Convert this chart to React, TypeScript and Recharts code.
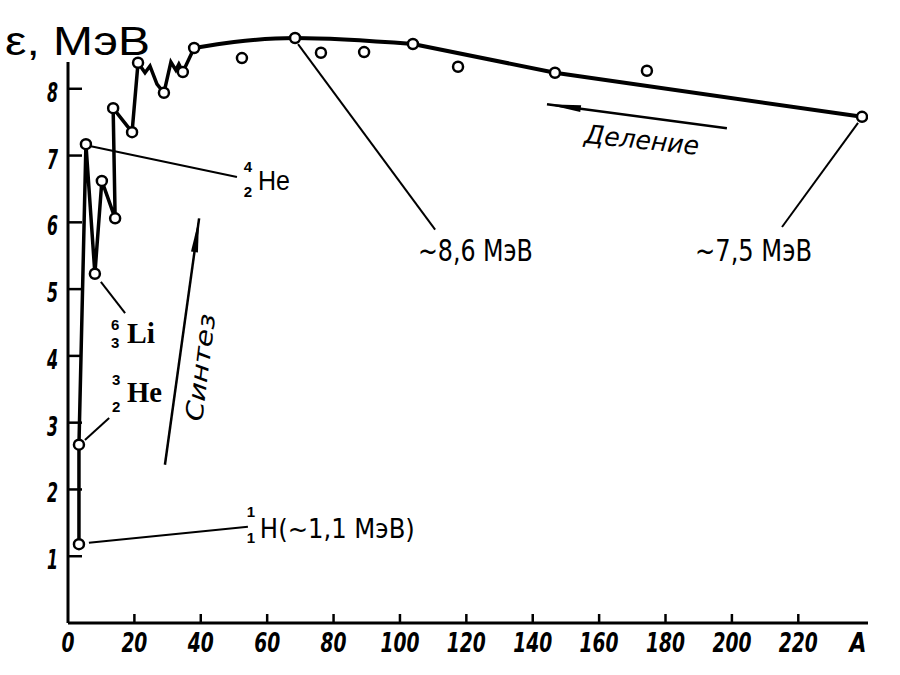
import React from "react";
import {
  ComposedChart,
  Line,
  Scatter,
  XAxis,
  YAxis,
  ReferenceLine,
  ReferenceDot,
} from "recharts";

// light nuclei: broken line, circles only where a nuclide is marked
const jagA = [3.3, 3.3, 5.4, 8.1, 10.2, 14.2, 13.6, 19.3, 21.1, 23.2, 24.7, 26.8, 28.9, 31.0, 32.5, 33.4, 34.6, 38.0];
const jagEps = [1.18, 2.67, 7.17, 5.23, 6.62, 6.06, 7.71, 7.35, 8.39, 8.24, 8.34, 8.07, 7.94, 8.4, 8.28, 8.37, 8.25, 8.61];
const jagDot = [1, 1, 1, 1, 1, 1, 1, 1, 1, 0, 0, 0, 1, 0, 0, 0, 1, 1];

// around the maximum: smooth curve
const peakA = [38.0, 50.0, 68.4, 103.9];
const peakEps = [8.61, 8.7, 8.76, 8.67];
const peakDot = [0, 0, 1, 1];

// heavy nuclei: nearly straight fall
const tailA = [103.9, 146.7, 239.2];
const tailEps = [8.67, 8.24, 7.58];
const tailDot = [0, 1, 1];

// points off the curve
const looseA = [52.4, 76.2, 89.2, 117.5, 174.4];
const looseEps = [8.46, 8.54, 8.55, 8.33, 8.27];

const xTicks = [0, 20, 40, 60, 80, 100, 120, 140, 160, 180, 200, 220, 238];
const xTickLabels = ["0", "20", "40", "60", "80", "100", "120", "140", "160", "180", "200", "220", "A"];
const yTicks = [1, 2, 3, 4, 5, 6, 7, 8];

const jagData = jagA.map((a, i) => ({ a, eps: jagEps[i], dot: jagDot[i] }));
const peakData = peakA.map((a, i) => ({ a, eps: peakEps[i], dot: peakDot[i] }));
const tailData = tailA.map((a, i) => ({ a, eps: tailEps[i], dot: tailDot[i] }));
const looseData = looseA.map((a, i) => ({ a, eps: looseEps[i] }));

// leader lines [from, to] in (A, eps)
const leaders = [
  [[6.9, 7.14], [50.9, 6.68]],
  [[9.9, 5.11], [17.2, 4.64]],
  [[5.1, 2.74], [12.4, 3.07]],
  [[6.3, 1.2], [54.2, 1.44]],
  [[69.3, 8.67], [110.6, 5.89]],
  [[238.0, 7.49], [215.1, 5.93]],
];

const NARROW = "'Liberation Sans Narrow', 'DejaVu Sans Condensed', 'Roboto Condensed', sans-serif";
const INK = "#000";

function Ring(p: any) {
  return <circle cx={p.cx} cy={p.cy} r={5} fill="#fff" stroke={INK} strokeWidth={2.5} />;
}

const dotFn = (p: any) =>
  p.payload && p.payload.dot ? (
    <circle key={p.index} cx={p.cx} cy={p.cy} r={5} fill="#fff" stroke={INK} strokeWidth={2.5} />
  ) : (
    <g key={p.index} />
  );

function XTick(props: any) {
  const { x, y, payload, index } = props;
  const label = xTickLabels[index] ?? String(payload.value);
  const isName = label === "A";
  return (
    <g>
      {!isName && payload.value !== 0 && (
        <line x1={x} x2={x} y1={y} y2={y - 9} stroke={INK} strokeWidth={2.5} />
      )}
      <text
        x={x}
        y={y + 29}
        textAnchor="middle"
        fontFamily={NARROW}
        fontSize={27}
        fontStyle="italic"
        fontWeight="bold"
        fill={INK}
        textLength={isName ? 17 : 13 * label.length}
        lengthAdjust="spacingAndGlyphs"
      >
        {label}
      </text>
    </g>
  );
}

function YTick(props: any) {
  const { x, y, payload } = props;
  return (
    <g>
      <line x1={x} x2={x + 14} y1={y} y2={y} stroke={INK} strokeWidth={2.5} />
      <text
        x={x - 10}
        y={y + 13}
        textAnchor="end"
        fontFamily={NARROW}
        fontSize={27}
        fontStyle="italic"
        fontWeight="bold"
        fill={INK}
        textLength={11}
        lengthAdjust="spacingAndGlyphs"
      >
        {payload.value}
      </text>
    </g>
  );
}

function Arrow(p: any) {
  const { x1, y1, x2, y2 } = p;
  const len = Math.hypot(x2 - x1, y2 - y1) || 1;
  const ux = (x2 - x1) / len;
  const uy = (y2 - y1) / len;
  const bx = x2 - ux * 34;
  const by = y2 - uy * 34;
  return (
    <g>
      <line x1={x1} y1={y1} x2={x2} y2={y2} stroke={INK} strokeWidth={2.5} />
      <polygon
        points={`${x2},${y2} ${bx - uy * 3.5},${by + ux * 3.5} ${bx + uy * 3.5},${by - ux * 3.5}`}
        fill={INK}
      />
    </g>
  );
}

const nuclide =
  (mass: string, charge: string, sym: string, opts: any) =>
  (p: any) => {
    const { cx, cy } = p;
    return (
      <g>
        <text
          x={cx - opts.ix}
          y={cy - opts.up}
          textAnchor="middle"
          fontFamily="'Liberation Sans', sans-serif"
          fontWeight="bold"
          fontSize={15}
          fill={INK}
        >
          {mass}
        </text>
        <text
          x={cx - opts.ix}
          y={cy + opts.down}
          textAnchor="middle"
          fontFamily="'Liberation Sans', sans-serif"
          fontWeight="bold"
          fontSize={15}
          fill={INK}
        >
          {charge}
        </text>
        <text
          x={cx}
          y={cy}
          fontFamily={opts.font}
          fontWeight={opts.weight}
          fontSize={opts.size}
          fill={INK}
          textLength={opts.len}
          lengthAdjust="spacingAndGlyphs"
        >
          {sym}
        </text>
      </g>
    );
  };

const plainText =
  (txt: string, opts: any) =>
  (p: any) =>
    (
      <text
        x={p.cx}
        y={p.cy}
        transform={opts.rot ? `rotate(${opts.rot} ${p.cx} ${p.cy})` : undefined}
        fontFamily={opts.font}
        fontStyle={opts.italic ? "italic" : "normal"}
        fontWeight={opts.weight || "normal"}
        fontSize={opts.size}
        fill={INK}
        textLength={opts.len}
        lengthAdjust="spacingAndGlyphs"
      >
        {txt}
      </text>
    );

export default function App() {
  return (
    <div style={{ position: "absolute", left: 0, top: 0, width: 900, height: 675, background: "#fff" }}>
      <ComposedChart
        width={900}
        height={675}
        margin={{ top: 22, right: 32, bottom: 0, left: 0 }}
      >
        <XAxis
          type="number"
          dataKey="a"
          domain={[0, 241]}
          ticks={xTicks}
          interval={0}
          allowDataOverflow
          height={52}
          tickSize={0}
          tickMargin={0}
          tickLine={false}
          axisLine={{ stroke: INK, strokeWidth: 3 }}
          tick={<XTick />}
        />
        <YAxis
          type="number"
          dataKey="eps"
          domain={[0, 9]}
          ticks={yTicks}
          interval={0}
          width={68}
          tickSize={0}
          tickMargin={0}
          tickLine={false}
          axisLine={false}
          tick={<YTick />}
        />
        <ReferenceLine
          segment={[{ x: 0, y: 0 }, { x: 0, y: 8.4 }]}
          stroke={INK}
          strokeWidth={3}
          ifOverflow="visible"
        />
        {leaders.map((s, i) => (
          <ReferenceLine
            key={"l" + i}
            segment={[{ x: s[0][0], y: s[0][1] }, { x: s[1][0], y: s[1][1] }]}
            stroke={INK}
            strokeWidth={2}
          />
        ))}
        <ReferenceLine
          segment={[{ x: 198.5, y: 7.41 }, { x: 144.3, y: 7.77 }]}
          shape={<Arrow />}
        />
        <ReferenceLine
          segment={[{ x: 29.2, y: 2.37 }, { x: 39.5, y: 6.06 }]}
          shape={<Arrow />}
        />
        <Line
          data={jagData}
          dataKey="eps"
          type="linear"
          stroke={INK}
          strokeWidth={3.5}
          dot={dotFn}
          activeDot={false}
          isAnimationActive={false}
        />
        <Line
          data={peakData}
          dataKey="eps"
          type="monotone"
          stroke={INK}
          strokeWidth={4}
          dot={dotFn}
          activeDot={false}
          isAnimationActive={false}
        />
        <Line
          data={tailData}
          dataKey="eps"
          type="linear"
          stroke={INK}
          strokeWidth={4}
          dot={dotFn}
          activeDot={false}
          isAnimationActive={false}
        />
        <Scatter data={looseData} dataKey="eps" shape={<Ring />} isAnimationActive={false} />
        <ReferenceDot
          x={57.2}
          y={6.48}
          r={0}
          shape={nuclide("4", "2", "He", { ix: 10, up: 18, down: 7, font: "'Liberation Sans', sans-serif", weight: "normal", size: 28, len: 32 })}
        />
        <ReferenceDot
          x={17.8}
          y={4.19}
          r={0}
          shape={nuclide("6", "3", "Li", { ix: 12, up: 13, down: 5, font: "'Liberation Serif', serif", weight: "bold", size: 29, len: 28 })}
        />
        <ReferenceDot
          x={17.8}
          y={3.31}
          r={0}
          shape={nuclide("3", "2", "He", { ix: 11, up: 17, down: 10, font: "'Liberation Serif', serif", weight: "bold", size: 29, len: 35 })}
        />
        <ReferenceDot
          x={57.8}
          y={1.27}
          r={0}
          shape={nuclide("1", "1", "H(~1,1 МэВ)", { ix: 9, up: 21, down: 5, font: NARROW, weight: "normal", size: 27, len: 155 })}
        />
        <ReferenceDot
          x={105.4}
          y={5.42}
          r={0}
          shape={plainText("~8,6 МэВ", { font: NARROW, size: 30, len: 115 })}
        />
        <ReferenceDot
          x={188.9}
          y={5.42}
          r={0}
          shape={plainText("~7,5 МэВ", { font: NARROW, size: 30, len: 117 })}
        />
        <ReferenceDot
          x={155.4}
          y={7.19}
          r={0}
          shape={plainText("Деление", { font: NARROW, size: 26, italic: true, rot: 6, len: 115 })}
        />
        <ReferenceDot
          x={40.4}
          y={3.01}
          r={0}
          shape={plainText("Синтез", { font: NARROW, size: 24, italic: true, rot: -83, len: 108 })}
        />
      </ComposedChart>
      <svg
        width={900}
        height={80}
        style={{ position: "absolute", left: 0, top: 0, pointerEvents: "none" }}
      >
        <text
          x={5}
          y={55}
          fontFamily="'Liberation Sans', Arial, sans-serif"
          fontSize={40}
          fill={INK}
          textLength={145}
          lengthAdjust="spacingAndGlyphs"
        >
          ε, МэВ
        </text>
      </svg>
    </div>
  );
}
